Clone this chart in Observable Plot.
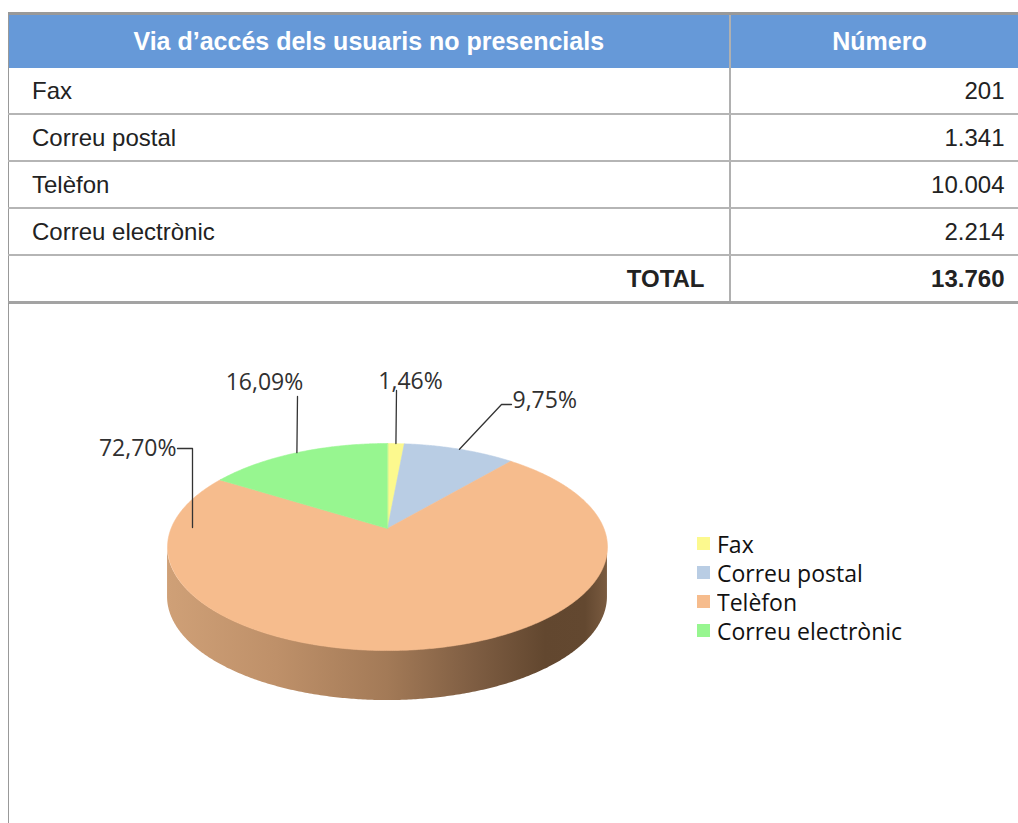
<!DOCTYPE html>
<html><head><meta charset="utf-8">
<script src="https://cdn.jsdelivr.net/npm/d3@7"></script>
<script src="https://cdn.jsdelivr.net/npm/@observablehq/plot@0.6"></script>
<style>
html,body{margin:0;padding:0;background:#fff;width:1018px;height:823px;overflow:hidden;position:relative}
#tbl{position:absolute;left:8px;top:12px;width:1020px;border-collapse:collapse;table-layout:fixed;font-family:"Liberation Sans",Arial,sans-serif;color:#222}
#tbl th{background:#6699d8;color:#fff;font-weight:bold;font-size:25px;height:53px;border-top:3px solid #999;padding:0;text-align:center}
#tbl td{font-size:24px;height:45px;border-bottom:2px solid #b5b5b5;padding:0 24px 0 23px;white-space:nowrap}
#tbl tr > :first-child{border-right:2px solid #b0b0b0;border-left:1px solid #999}
#tbl td.num{text-align:right}
#tbl tr.total td{font-weight:bold;text-align:right;border-bottom:3px solid #a3a3a3}
#frame{position:absolute;left:8px;top:303px;width:0;height:530px;border-left:1px solid #999}
#chart{position:absolute;left:0;top:304px}
</style></head>
<body>
<table id="tbl"><colgroup><col style="width:721px"><col style="width:299px"></colgroup><thead><tr></tr></thead><tbody></tbody></table>
<div id="frame"></div>
<div id="chart"></div>
<script>
// ---------- data ----------
const headers = ["Via d’accés dels usuaris no presencials", "Número"];
const categories = ["Fax", "Correu postal", "Telèfon", "Correu electrònic"];
const counts = [201, 1341, 10004, 2214];
const totalLabel = "TOTAL";
const sliceColors = ["#fcf98e", "#b9cde4", "#f6bc8d", "#97f690"];

// ---------- formatting ----------
const loc = d3.formatLocale({decimal: ",", thousands: ".", grouping: [3], currency: ["", "€"]});
const fmtInt = loc.format(",d");
const fmtPct = loc.format(".2f");
const total = d3.sum(counts);
const rows = categories.map((cat, i) => ({cat, count: counts[i]}));

// ---------- table ----------
const hr = document.querySelector("#tbl thead tr");
headers.forEach(h => { const th = document.createElement("th"); th.textContent = h; hr.appendChild(th); });
const tb = document.querySelector("#tbl tbody");
rows.forEach(r => {
  const tr = document.createElement("tr");
  tr.innerHTML = `<td></td><td class="num"></td>`;
  tr.children[0].textContent = r.cat;
  tr.children[1].textContent = fmtInt(r.count);
  tb.appendChild(tr);
});
{
  const tr = document.createElement("tr");
  tr.className = "total";
  tr.innerHTML = `<td></td><td></td>`;
  tr.children[0].textContent = totalLabel;
  tr.children[1].textContent = fmtInt(total);
  tb.appendChild(tr);
}

// ---------- 3D pie layout constants ----------
const W = 1018, H = 519;
const CX = 387, CY = 224, RX = 216.4, RY = 100.2, P = 0.179, DEPTH = 50;
const proj = t => { const u = Math.sin(t), v = Math.cos(t), d = 1 + P * v; return {x: u / d, y: v / d}; };
const toUnits = ([dx, dy]) => ({x: dx / RX, y: -dy / RY});

const arcs = d3.pie().sort(null).value(d => d.count)(rows);

const sliceData = arcs.flatMap(a => {
  const n = Math.max(2, Math.ceil((a.endAngle - a.startAngle) / (Math.PI / 360)));
  const pts = [{cat: a.data.cat, x: 0, y: 0}];
  for (let i = 0; i <= n; i++) {
    const t = a.startAngle + (a.endAngle - a.startAngle) * i / n;
    pts.push({cat: a.data.cat, ...proj(t)});
  }
  return pts;
});

const tR = Math.acos(-P), tL = 2 * Math.PI - tR;
const sideData = arcs.flatMap(a => {
  const s = Math.max(a.startAngle, tR), e = Math.min(a.endAngle, tL);
  if (e <= s) return [];
  const n = Math.max(2, Math.ceil((e - s) / (Math.PI / 360)));
  const pts = [];
  for (let i = 0; i <= n; i++) {
    const t = s + (e - s) * i / n;
    const p = proj(t);
    pts.push({cat: a.data.cat, x: p.x, y: p.y, yb: p.y - DEPTH / RY});
  }
  return pts;
});

// label layout (pixel offsets from the pie apex)
const labelLayout = {
  "Fax":               {pos: [23, -147],  anchor: "middle", leader: [[9, -138]], toRim: true},
  "Correu postal":     {pos: [125, -128], anchor: "start",  leader: [[124, -124], [114, -124]], toRim: true},
  "Telèfon":           {pos: [-211, -80], anchor: "end",    leader: [[-210, -80], [-195, -80], [-195, -1]], toRim: false},
  "Correu electrònic": {pos: [-123, -146], anchor: "middle", leader: [[-90, -132]], toRim: true}
};

const labelData = arcs.map(a => {
  const L = labelLayout[a.data.cat];
  return {cat: a.data.cat, anchor: L.anchor, text: fmtPct(100 * a.data.count / total) + "%", ...toUnits(L.pos)};
});
const leaderData = arcs.flatMap(a => {
  const L = labelLayout[a.data.cat];
  const pts = L.leader.map(p => ({cat: a.data.cat, ...toUnits(p)}));
  if (L.toRim) pts.push({cat: a.data.cat, ...proj((a.startAngle + a.endAngle) / 2)});
  return pts;
});

const textStyle = {fontFamily: "'Open Sans', sans-serif", fontSize: 23, fill: "#303030"};

const plot = Plot.plot({
  width: W, height: H, margin: 0,
  style: {background: "transparent", overflow: "visible"},
  x: {domain: [-1, 1], range: [CX - RX, CX + RX], axis: null},
  y: {domain: [-1, 1], range: [CY + RY, CY - RY], axis: null},
  color: {domain: categories, range: sliceColors},
  marks: [
    Plot.area(sideData, {x1: "x", y1: "y", y2: "yb", z: "cat", fill: "url(#sideGrad)"}),
    Plot.line(sliceData, {x: "x", y: "y", z: "cat", fill: "cat", stroke: "cat", strokeWidth: 0.6, curve: "linear-closed"}),
    Plot.line(leaderData, {x: "x", y: "y", z: "cat", stroke: "#333", strokeWidth: 1.3}),
    ...["start", "middle", "end"].map(anc =>
      Plot.text(labelData.filter(d => d.anchor === anc), {x: "x", y: "y", text: "text", textAnchor: anc, ...textStyle}))
  ]
});

const defs = d3.select(plot).insert("defs", ":first-child");
const grad = defs.append("linearGradient").attr("id", "sideGrad").attr("x1", 0).attr("x2", 1).attr("y1", 0).attr("y2", 0);
[[0, "#cfa077"], [0.25, "#be9069"], [0.5, "#a37a57"], [0.7, "#7e5d42"], [0.86, "#62472f"], [0.95, "#634830"], [1, "#7a5b40"]]
  .forEach(([o, c]) => grad.append("stop").attr("offset", o).attr("stop-color", c));

document.getElementById("chart").appendChild(plot);

// legend
const legend = Plot.legend({color: {domain: categories, range: sliceColors}, columns: 1, swatchSize: 13});
legend.style.position = "absolute";
legend.style.left = "697px";
legend.style.top = "529px";
legend.style.width = "300px";
legend.style.margin = "0";
legend.style.fontFamily = "'Open Sans', sans-serif";
legend.style.fontSize = "23px";
legend.style.color = "#111";
legend.querySelectorAll("svg").forEach(s => { s.style.marginRight = "7px"; s.parentNode.style.height = "29px"; s.parentNode.style.paddingBottom = "0"; });
document.body.appendChild(legend);
</script>
</body></html>
